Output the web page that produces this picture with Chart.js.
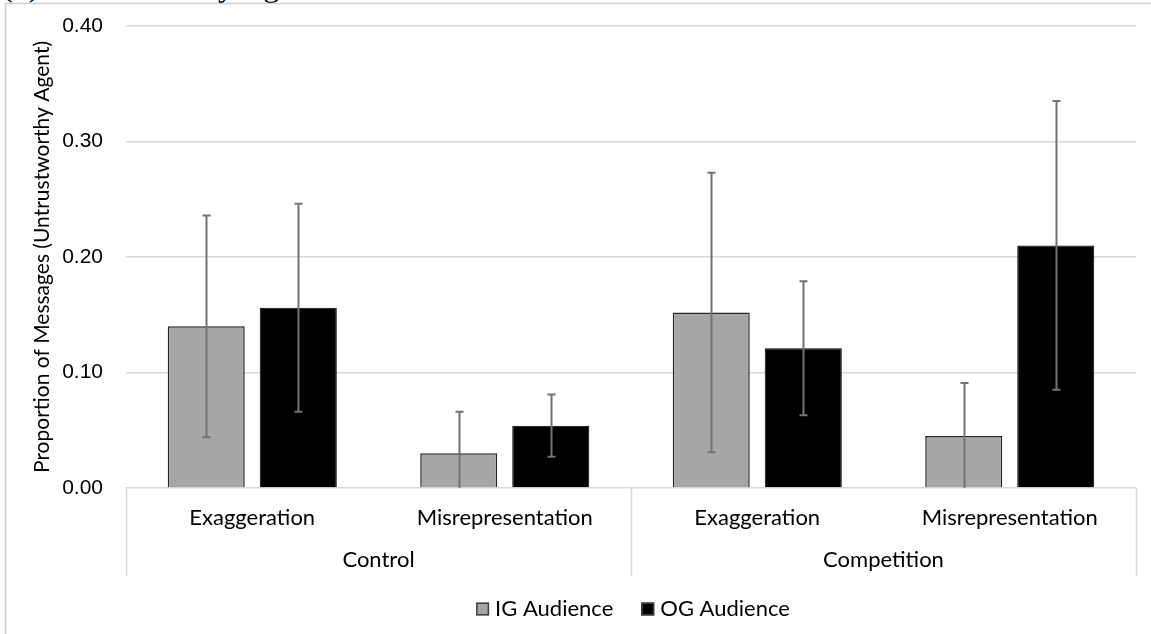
<!DOCTYPE html>
<html>
<head>
<meta charset="utf-8">
<title>Untrustworthy Agent</title>
<script src="https://cdn.jsdelivr.net/npm/chart.js@4.4.0/dist/chart.umd.min.js"></script>
<style>
  html, body { margin: 0; padding: 0; background: #fff; overflow: hidden; }
  #wrap { position: relative; width: 1151px; height: 634px; overflow: hidden; }
  #panel { position: absolute; left: 2px; top: -31px; font: 32px "Liberation Serif", serif; line-height: 32px; color: #000; white-space: nowrap; }
  #chart { position: absolute; left: 0; top: 0; }
</style>
</head>
<body>
<div id="wrap">
  <div id="panel">(b) Untrustworthy Agent</div>
  <canvas id="chart" width="1151" height="634"></canvas>
</div>
<script>
// categories
const subCats = ['Exaggeration', 'Misrepresentation', 'Exaggeration', 'Misrepresentation'];
const groups = ['Control', 'Competition'];
const groupSize = 2;

// means and error half-widths per audience
const igMean = [0.140, 0.030, 0.152, 0.045];
const ogMean = [0.156, 0.054, 0.121, 0.210];
const igErr  = [0.096, 0.036, 0.121, 0.046];
const ogErr  = [0.090, 0.027, 0.058, 0.125];

const yTicks = [0, 0.1, 0.2, 0.3, 0.4];

const labelFont = 'Lato, "Noto Sans", sans-serif';
const gridGrey = '#d9d9d9';

// error bars, clipped to the bottom of the axis
const errorBars = {
  id: 'errorBars',
  afterDatasetsDraw(chart) {
    const ctx = chart.ctx;
    const y = chart.scales.y;
    ctx.save();
    ctx.strokeStyle = '#737373';
    ctx.lineWidth = 2;
    chart.data.datasets.forEach((ds, i) => {
      const meta = chart.getDatasetMeta(i);
      meta.data.forEach((bar, j) => {
        const v = ds.data[j], e = ds.errors[j];
        const top = y.getPixelForValue(v + e);
        const bot = y.getPixelForValue(Math.max(y.min, v - e));
        const x = Math.round(bar.x) + 0.5;
        ctx.beginPath();
        ctx.moveTo(x, top); ctx.lineTo(x, bot);
        ctx.moveTo(x - 4, top); ctx.lineTo(x + 4, top);
        if (v - e > y.min) { ctx.moveTo(x - 4, bot); ctx.lineTo(x + 4, bot); }
        ctx.stroke();
      });
    });
    ctx.restore();
  }
};

// second row of x labels, divider lines, legend and frame
const decorations = {
  id: 'decorations',
  afterDraw(chart) {
    const ctx = chart.ctx;
    const x = chart.scales.x;
    const n = subCats.length;
    const edge = k => {
      if (k <= 0) return x.left;
      if (k >= n) return x.right;
      return (x.getPixelForValue(k - 1) + x.getPixelForValue(k)) / 2;
    };
    ctx.save();
    ctx.strokeStyle = gridGrey;
    ctx.lineWidth = 1.5;
    for (let g = 0; g <= groups.length; g++) {
      const px = Math.round(edge(g * groupSize)) + 0.5;
      ctx.beginPath();
      ctx.moveTo(px, x.top);
      ctx.lineTo(px, x.bottom);
      ctx.stroke();
    }
    ctx.fillStyle = '#000';
    ctx.font = '22px ' + labelFont;
    ctx.textAlign = 'center';
    ctx.textBaseline = 'middle';
    groups.forEach((name, g) => {
      const cx = (edge(g * groupSize) + edge((g + 1) * groupSize)) / 2;
      ctx.fillText(name, cx, x.top + 72);
    });

    // legend
    const box = 13, gap = 6, between = 28;
    const items = chart.data.datasets.map(ds => ({ ds, w: ctx.measureText(ds.label).width }));
    const total = items.reduce((s, it) => s + box + gap + it.w, 0) + between * (items.length - 1);
    let lx = (chart.chartArea.left + chart.chartArea.right) / 2 - total / 2 + 2;
    const ly = 609;
    ctx.textAlign = 'left';
    items.forEach(it => {
      ctx.fillStyle = it.ds.backgroundColor;
      ctx.fillRect(lx, ly - box / 2, box, box);
      ctx.strokeStyle = '#404040';
      ctx.lineWidth = 1.5;
      ctx.strokeRect(lx + 0.75, ly - box / 2 + 0.75, box - 1.5, box - 1.5);
      ctx.fillStyle = '#000';
      ctx.fillText(it.ds.label, lx + box + gap, ly);
      lx += box + gap + it.w + between;
    });

    // outer frame
    ctx.strokeStyle = '#d0d0d0';
    ctx.lineWidth = 1.5;
    ctx.beginPath();
    ctx.moveTo(5.5, chart.height);
    ctx.lineTo(5.5, 3.5);
    ctx.lineTo(chart.width, 3.5);
    ctx.stroke();
    ctx.restore();
  }
};

new Chart(document.getElementById('chart'), {
  type: 'bar',
  data: {
    labels: subCats,
    datasets: [
      {
        label: 'IG Audience',
        data: igMean,
        errors: igErr,
        backgroundColor: '#a6a6a6',
        borderColor: '#262626',
        borderWidth: 1.5
      },
      {
        label: 'OG Audience',
        data: ogMean,
        errors: ogErr,
        backgroundColor: '#000000',
        borderColor: '#000000',
        borderWidth: 1
      }
    ]
  },
  options: {
    responsive: false,
    animation: false,
    layout: { padding: { top: 26, right: 15, bottom: 58, left: 0 } },
    datasets: { bar: { barPercentage: 0.837, categoryPercentage: 0.729 } },
    plugins: {
      legend: { display: false },
      tooltip: { enabled: false }
    },
    scales: {
      x: {
        grid: { display: false, drawTicks: false },
        border: { display: false },
        ticks: { font: { family: labelFont, size: 22 }, color: '#000', padding: 17, maxRotation: 0, autoSkip: false },
        afterFit: s => { s.height = 88; }
      },
      y: {
        min: 0,
        max: 0.4,
        afterBuildTicks: s => { s.ticks = yTicks.map(v => ({ value: v })); },
        ticks: {
          callback: v => v.toFixed(2),
          font: { family: '"Liberation Sans", Arial, sans-serif', size: 21 },
          color: '#000',
          padding: 23
        },
        grid: { color: gridGrey, lineWidth: 1.5, drawTicks: false },
        border: { display: false },
        title: {
          display: true,
          text: 'Proportion of Messages (Untrustworthy Agent)',
          font: { family: labelFont, size: 21 },
          color: '#000',
          padding: { top: 30, bottom: 0 }
        },
        afterFit: s => {
          s.width = 126;
          s.paddingTop = 0;
          s.paddingBottom = 0;
        }
      }
    }
  },
  plugins: [errorBars, decorations]
});
</script>
</body>
</html>
